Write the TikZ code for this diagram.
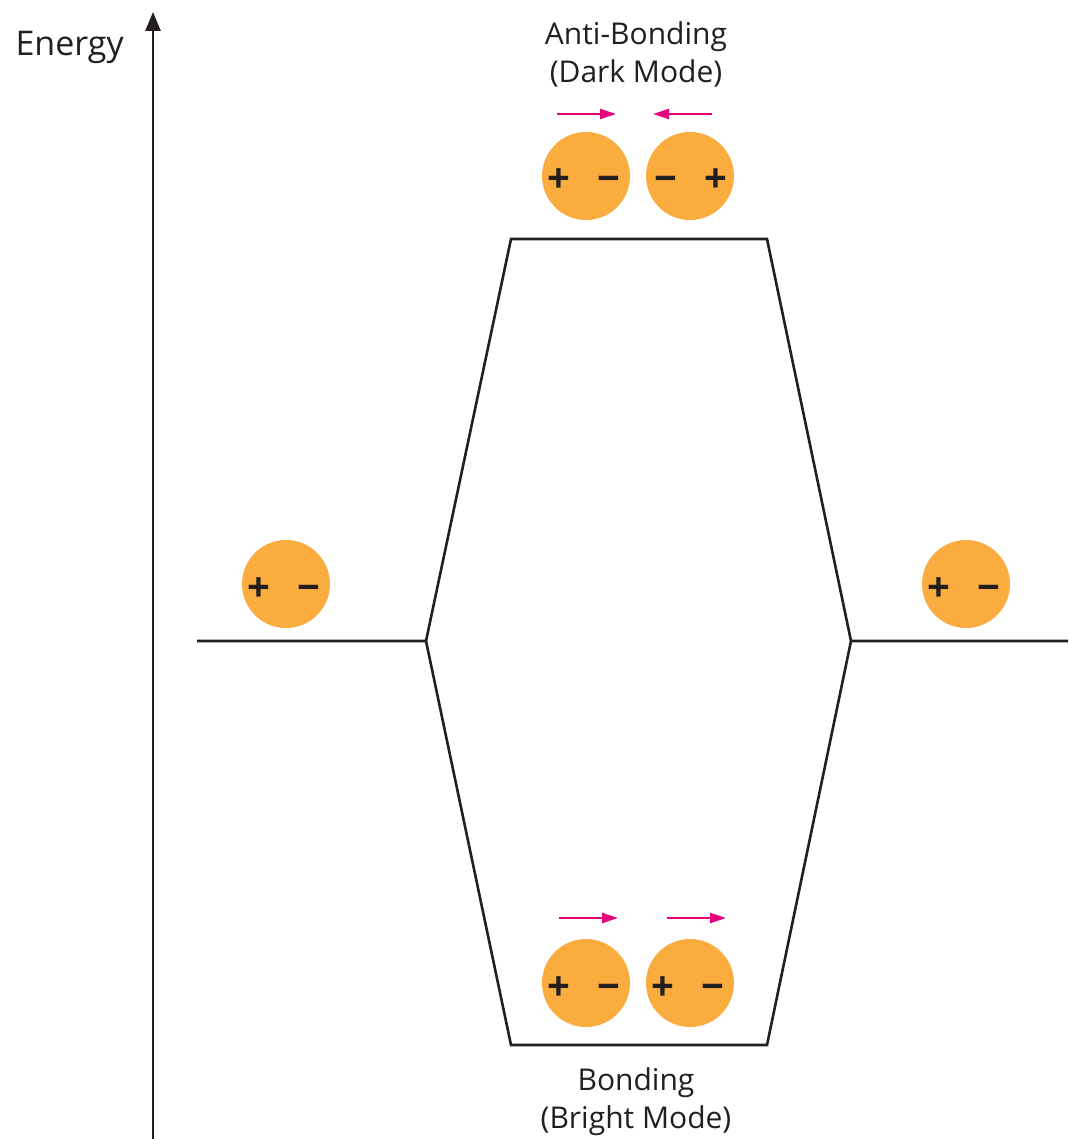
\documentclass[tikz,border=0pt]{standalone}
\usepackage{fontspec}
\setmainfont{Open Sans}
\usetikzlibrary{arrows.meta}
\definecolor{dipole}{HTML}{FAAD3E}
\definecolor{motion}{HTML}{E5007D}
\definecolor{ink}{HTML}{231F20}

\begin{document}
\begin{tikzpicture}[x=1pt,y=-1pt,
  level/.style={draw=ink, line width=2.6pt, line join=miter},
  dipole/.style={circle, fill=dipole, minimum size=88pt, inner sep=0pt},
  sign/.style={font=\fontsize{40}{40}\selectfont\bfseries, text=ink, inner sep=0pt, anchor=base},
  motionarrow/.style={draw=motion, line width=2.4pt, -{Triangle[length=16pt,width=10pt]}},
  caption/.style={font=\fontsize{30}{38}\selectfont, text=ink, align=center}]

  \useasboundingbox[fill=white] (0,0) rectangle (1068,1139);

  % energy axis
  \coordinate (axbot) at (153,1139);
  \coordinate (axtop) at (153,12);
  \draw[draw=ink, line width=2.6pt, -{Triangle[length=19pt,width=15pt]}] (axbot) -- (axtop);
  \node[caption, font=\fontsize{34}{38}\selectfont, anchor=base west] (energy) at (12,56) {Energy};

  % level diagram corners
  \coordinate (lft) at (197,641);
  \coordinate (ljoin) at (426,641);
  \coordinate (atl) at (511,239);
  \coordinate (atr) at (767,239);
  \coordinate (rjoin) at (851,641);
  \coordinate (rgt) at (1068,641);
  \coordinate (bl) at (511,1045);
  \coordinate (br) at (767,1045);

  \draw[level] (lft) -- (ljoin) -- (atl) -- (atr) -- (rjoin) -- (rgt);
  \draw[level] (ljoin) -- (bl) -- (br) -- (rjoin);

  % isolated dipoles
  \node[dipole] (d1) at (286,584) {};
  \node[sign] (d1p) at ([xshift=-27pt,yshift=-17pt]d1.center) {+};
  \node[sign] (d1m) at ([xshift=23pt,yshift=-17pt]d1.center) {−};

  \node[dipole] (d2) at (966,584) {};
  \node[sign] (d2p) at ([xshift=-27pt,yshift=-17pt]d2.center) {+};
  \node[sign] (d2m) at ([xshift=23pt,yshift=-17pt]d2.center) {−};

  % anti-bonding pair
  \node[dipole] (a1) at (586,176) {};
  \node[sign] (a1p) at ([xshift=-27pt,yshift=-17pt]a1.center) {+};
  \node[sign] (a1m) at ([xshift=23pt,yshift=-17pt]a1.center) {−};
  \node[dipole] (a2) at (690,176) {};
  \node[sign] (a2m) at ([xshift=-24pt,yshift=-17pt]a2.center) {−};
  \node[sign] (a2p) at ([xshift=26pt,yshift=-17pt]a2.center) {+};

  \coordinate (a1s) at (557,114);
  \coordinate (a1e) at (616,114);
  \coordinate (a2s) at (712,114);
  \coordinate (a2e) at (653,114);
  \draw[motionarrow] (a1s) -- (a1e);
  \draw[motionarrow] (a2s) -- (a2e);

  \node[caption, anchor=base] (anti) at (636,83) {Anti-Bonding\\(Dark Mode)};

  % bonding pair
  \node[dipole] (b1) at (586,983) {};
  \node[sign] (b1p) at ([xshift=-27pt,yshift=-17pt]b1.center) {+};
  \node[sign] (b1m) at ([xshift=23pt,yshift=-17pt]b1.center) {−};
  \node[dipole] (b2) at (690,983) {};
  \node[sign] (b2p) at ([xshift=-27pt,yshift=-17pt]b2.center) {+};
  \node[sign] (b2m) at ([xshift=23pt,yshift=-17pt]b2.center) {−};

  \coordinate (b1s) at (559,918);
  \coordinate (b1e) at (618,918);
  \coordinate (b2s) at (667,918);
  \coordinate (b2e) at (726,918);
  \draw[motionarrow] (b1s) -- (b1e);
  \draw[motionarrow] (b2s) -- (b2e);

  \node[caption, anchor=base] (bond) at (636,1128) {Bonding\\(Bright Mode)};
\end{tikzpicture}
\end{document}
